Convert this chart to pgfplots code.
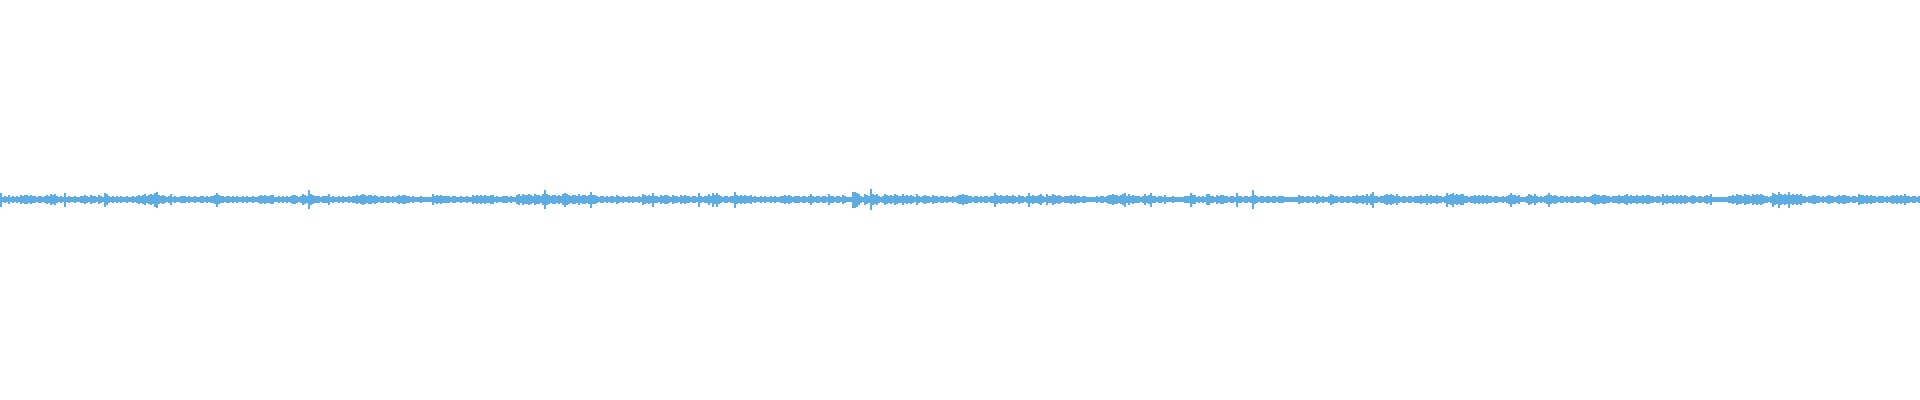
\documentclass[border=0pt]{standalone}
\usepackage{pgfplots}
\usepackage{pgfplotstable}
\pgfplotsset{compat=1.18}
\definecolor{wavec}{HTML}{5DADE2}
% half-heights (px) of the waveform, one value per 2 px column
\pgfplotstableread[row sep=\\]{a\\6\\2\\3\\2\\4\\2\\3\\2\\3\\2\\4\\3\\4\\4\\3\\4\\3\\3\\2\\3\\3\\2\\3\\4\\3\\5\\4\\5\\3\\2\\3\\2\\6\\2\\3\\2\\2\\3\\2\\2\\3\\3\\4\\3\\2\\4\\3\\3\\2\\4\\3\\2\\6\\5\\3\\2\\3\\2\\3\\2\\3\\2\\2\\3\\2\\2\\3\\2\\3\\4\\3\\4\\5\\3\\4\\5\\4\\6\\7\\4\\3\\4\\3\\2\\3\\5\\2\\3\\2\\2\\3\\3\\3\\2\\3\\2\\2\\3\\2\\2\\3\\3\\2\\3\\2\\3\\3\\}\tA
\pgfplotstableread[row sep=\\]{a\\4\\6\\4\\3\\3\\2\\3\\3\\2\\3\\2\\3\\2\\2\\3\\2\\3\\2\\2\\3\\2\\2\\3\\4\\3\\4\\3\\3\\4\\4\\2\\2\\3\\2\\3\\2\\3\\2\\3\\4\\4\\3\\2\\3\\5\\4\\3\\8\\5\\4\\3\\3\\3\\2\\3\\3\\3\\5\\2\\3\\2\\2\\3\\2\\3\\2\\2\\3\\2\\3\\3\\4\\3\\4\\5\\4\\3\\4\\4\\3\\4\\3\\2\\3\\3\\2\\3\\3\\2\\3\\2\\3\\4\\3\\4\\4\\3\\3\\2\\3\\2\\2\\2\\3\\2\\2\\2\\}\tB
\pgfplotstableread[row sep=\\]{a\\2\\2\\5\\3\\4\\3\\4\\3\\3\\3\\3\\2\\3\\3\\2\\2\\3\\2\\2\\3\\2\\2\\4\\3\\4\\3\\4\\3\\4\\3\\3\\4\\4\\2\\3\\2\\2\\3\\3\\3\\2\\3\\2\\2\\4\\5\\3\\5\\4\\4\\5\\4\\3\\5\\4\\4\\3\\5\\8\\5\\4\\3\\4\\4\\3\\4\\3\\5\\6\\5\\4\\3\\4\\4\\3\\5\\3\\4\\4\\3\\4\\7\\4\\4\\3\\2\\3\\3\\2\\3\\2\\3\\3\\2\\4\\3\\2\\3\\2\\2\\3\\2\\3\\2\\2\\3\\2\\}\tC
\pgfplotstableread[row sep=\\]{a\\5\\4\\3\\4\\3\\6\\3\\3\\2\\4\\3\\4\\4\\3\\2\\4\\3\\3\\2\\4\\3\\4\\3\\3\\2\\3\\3\\2\\6\\3\\2\\3\\3\\5\\3\\6\\4\\6\\4\\3\\2\\3\\3\\2\\3\\3\\7\\4\\3\\4\\3\\4\\3\\3\\4\\2\\3\\2\\2\\3\\2\\3\\2\\2\\3\\2\\3\\2\\2\\3\\3\\4\\3\\4\\3\\2\\3\\3\\3\\2\\3\\3\\2\\3\\5\\3\\2\\3\\3\\2\\3\\3\\2\\5\\3\\3\\2\\3\\3\\2\\4\\3\\2\\2\\2\\7\\7\\}\tD
\pgfplotstableread[row sep=\\]{a\\6\\5\\3\\2\\5\\4\\3\\9\\5\\4\\5\\3\\2\\3\\5\\4\\3\\4\\3\\5\\4\\3\\3\\5\\3\\4\\3\\4\\3\\2\\5\\3\\2\\3\\4\\3\\3\\2\\4\\3\\3\\2\\3\\3\\2\\3\\2\\2\\3\\2\\3\\4\\4\\5\\4\\4\\3\\3\\2\\3\\3\\2\\3\\2\\3\\3\\2\\3\\3\\6\\4\\3\\4\\3\\3\\4\\3\\3\\4\\3\\2\\4\\3\\3\\2\\3\\6\\3\\4\\3\\3\\4\\5\\3\\2\\5\\3\\3\\5\\4\\3\\4\\3\\2\\3\\3\\3\\}\tE
\pgfplotstableread[row sep=\\]{a\\4\\3\\4\\3\\3\\2\\3\\3\\2\\2\\2\\2\\2\\3\\2\\3\\3\\2\\3\\4\\4\\5\\4\\4\\3\\4\\5\\6\\3\\5\\3\\4\\3\\3\\3\\2\\3\\5\\3\\4\\6\\3\\3\\2\\3\\3\\2\\4\\2\\2\\2\\3\\2\\2\\2\\2\\2\\3\\3\\3\\6\\4\\4\\2\\3\\2\\3\\2\\5\\5\\3\\3\\2\\4\\3\\4\\4\\3\\3\\2\\3\\3\\2\\6\\3\\3\\2\\3\\3\\2\\3\\8\\4\\3\\2\\3\\3\\2\\3\\3\\2\\3\\3\\2\\3\\3\\3\\}\tF
\pgfplotstableread[row sep=\\]{a\\2\\2\\2\\2\\2\\2\\2\\4\\3\\3\\2\\3\\3\\2\\3\\2\\4\\3\\2\\3\\2\\2\\3\\5\\4\\3\\3\\2\\3\\3\\2\\3\\3\\2\\3\\3\\4\\3\\3\\4\\3\\5\\3\\5\\7\\3\\3\\2\\3\\3\\4\\5\\4\\5\\4\\3\\5\\3\\2\\3\\3\\2\\3\\3\\2\\3\\3\\3\\4\\3\\3\\5\\3\\4\\3\\3\\4\\3\\3\\2\\3\\6\\4\\5\\6\\4\\5\\4\\5\\5\\3\\3\\2\\3\\3\\4\\3\\4\\3\\4\\3\\4\\3\\3\\2\\3\\3\\}\tG
\pgfplotstableread[row sep=\\]{a\\2\\2\\3\\2\\3\\4\\6\\4\\4\\3\\4\\2\\2\\2\\3\\5\\4\\3\\5\\3\\2\\3\\2\\3\\4\\6\\4\\3\\4\\3\\2\\3\\3\\2\\3\\2\\3\\3\\2\\3\\3\\2\\2\\3\\2\\2\\3\\4\\5\\4\\4\\3\\4\\4\\3\\3\\2\\3\\3\\3\\4\\3\\3\\4\\5\\3\\4\\3\\3\\4\\3\\3\\4\\3\\4\\4\\3\\3\\2\\3\\3\\2\\5\\3\\4\\3\\3\\4\\3\\4\\3\\4\\3\\4\\3\\2\\3\\4\\3\\2\\3\\3\\2\\3\\4\\3\\5\\}\tH
\pgfplotstableread[row sep=\\]{a\\2\\2\\2\\2\\2\\2\\2\\2\\3\\3\\4\\3\\5\\4\\4\\3\\5\\4\\4\\3\\5\\4\\5\\4\\5\\4\\3\\3\\2\\3\\6\\5\\4\\7\\5\\4\\5\\4\\7\\4\\5\\4\\5\\4\\5\\3\\3\\2\\3\\3\\4\\4\\3\\3\\2\\3\\2\\3\\4\\3\\3\\2\\3\\4\\3\\4\\4\\3\\3\\2\\3\\3\\2\\5\\4\\4\\3\\4\\3\\4\\3\\3\\2\\3\\3\\3\\2\\3\\2\\3\\4\\3\\4\\3\\4\\3\\5\\3\\3\\2\\3\\3\\2\\3\\}\tI
\newcommand{\wave}[2]{%
  \addplot[wv] table[x index=0, y index=0, x expr=\coordindex*2+#2, y expr=\thisrow{a}]{#1};
  \addplot[wv] table[x index=0, y index=0, x expr=\coordindex*2+#2, y expr=-\thisrow{a}]{#1};
}
\begin{document}
\begin{tikzpicture}
\path[use as bounding box] (0,0) rectangle (960pt,200pt);
\begin{axis}[
  at={(0,0)}, anchor=south west,
  width=960pt, height=200pt, scale only axis,
  xmin=0, xmax=1920, ymin=-174.3, ymax=173.7,
  hide axis, clip=true,
  wv/.style={ycomb, draw=wavec, line width=0.7pt, mark=none},
]
\addplot[draw=wavec, line width=2pt, mark=none] coordinates {(0,0) (1920,0)};
\wave{\tA}{1}
\wave{\tB}{215}
\wave{\tC}{429}
\wave{\tD}{643}
\wave{\tE}{857}
\wave{\tF}{1071}
\wave{\tG}{1285}
\wave{\tH}{1499}
\wave{\tI}{1713}
\end{axis}
\end{tikzpicture}
\end{document}
